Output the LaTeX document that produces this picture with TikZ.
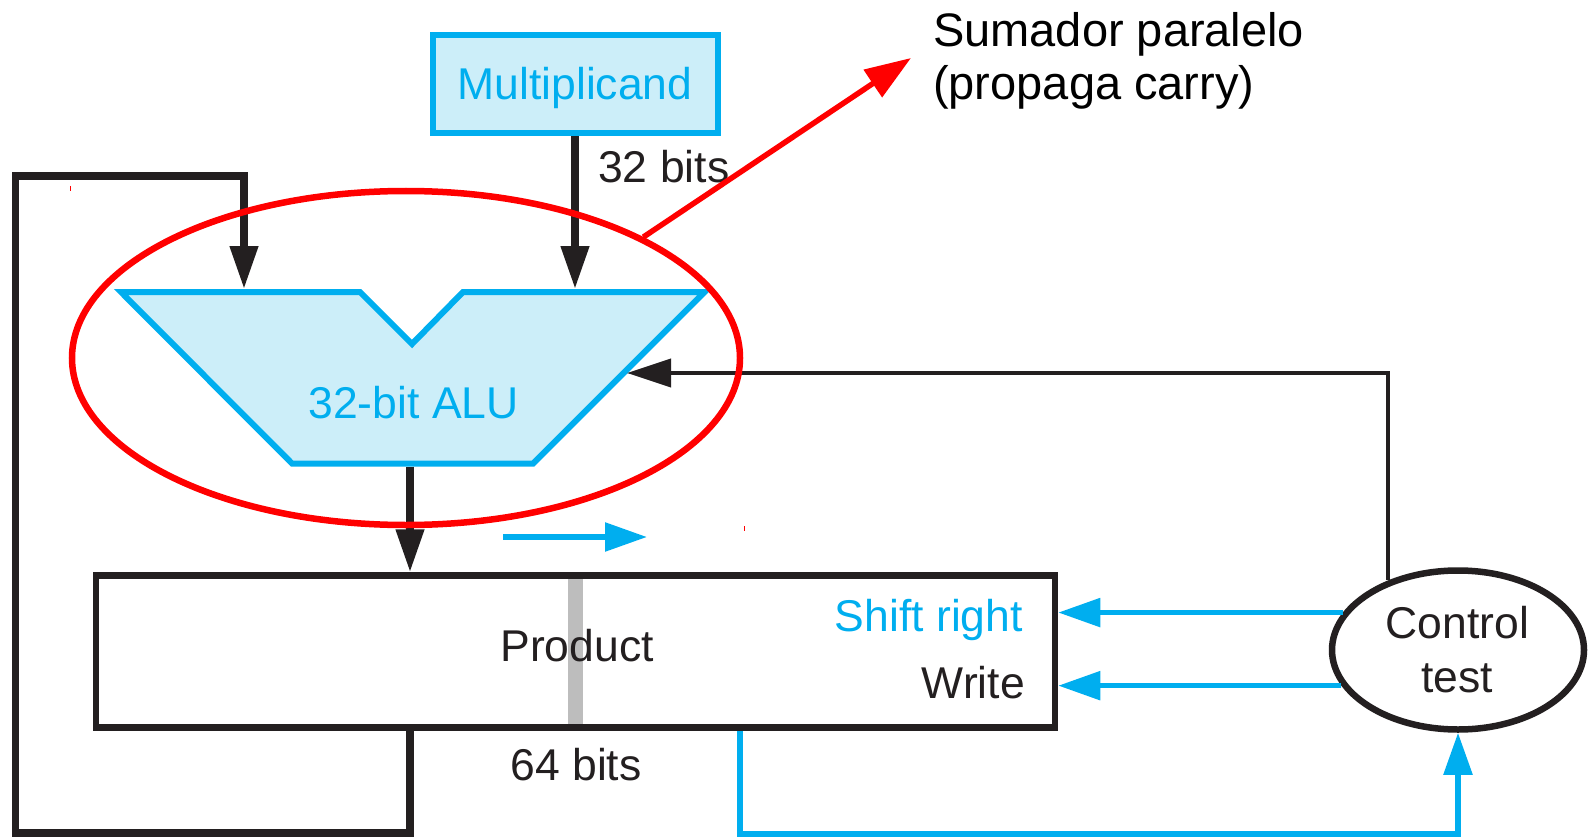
\documentclass[tikz,border=0pt]{standalone}
\usepackage{fontspec}
\setmainfont{Liberation Sans}
\usetikzlibrary{arrows.meta,shapes.geometric}
\definecolor{cpblue}{HTML}{00AEEF}
\definecolor{cpfill}{HTML}{CCEEF9}
\definecolor{cpblack}{HTML}{231F20}
\definecolor{cpgray}{HTML}{BDBDBD}
\definecolor{cpred}{HTML}{FF0000}
\begin{document}
\begin{tikzpicture}[x=1pt,y=-1pt,
  lbl/.style={inner sep=0pt, font=\fontsize{44.5}{54}\selectfont},
  biglbl/.style={inner sep=0pt, font=\fontsize{47}{53}\selectfont},
  thickbus/.style={draw=cpblack, line width=7.5pt, -{Triangle[length=43pt,width=27pt]}},
  thinbus/.style={draw=cpblack, line width=3.8pt, -{Triangle[length=44pt,width=28pt]}},
  bluebus/.style={draw=cpblue, line width=5.5pt, -{Triangle[length=42pt,width=28pt]}},
  regbox/.style={draw=cpblack, line width=6.5pt, inner sep=0pt, rectangle},
  unitbox/.style={draw=cpblue, fill=cpfill, line width=6pt, inner sep=0pt, rectangle},
  ctlshape/.style={draw=cpblack, line width=6.5pt, ellipse, inner sep=0pt,
    minimum width=252pt, minimum height=159pt},
  ring/.style={draw=cpred, line width=6.5pt, ellipse, inner sep=0pt,
    minimum width=668pt, minimum height=334pt},
  redarrow/.style={draw=cpred, line width=5.5pt, -{Triangle[length=46pt,width=32pt]}}
]
\useasboundingbox (0,0) rectangle (1590,837);
\fill[white] (0,0) rectangle (1590,837);

% ---- multiplicand register ----
\node[unitbox, minimum width=285pt, minimum height=98pt] (mult) at (575,84) {};
\node[lbl, anchor=base, text=cpblue] (multtxt) at (575,100) {Multiplicand};
\node[lbl, anchor=base west, text=cpblack] (bits32) at (598,183) {32 bits};

% ---- ALU ----
\draw[draw=cpblue, fill=cpfill, line width=6pt]
  (121,292) -- (360,292) -- (412,344) -- (463,292) -- (704.5,292)
  -- (533,463.5) -- (292,463.5) -- cycle;
\node[lbl, anchor=base, text=cpblue] (alutxt) at (413.5,418) {32-bit ALU};
\coordinate (aluA) at (244,289);
\coordinate (aluB) at (575,289);
\coordinate (aluR) at (627,373);
\coordinate (aluOut) at (410,466.5);

% ---- product register ----
\node[regbox, minimum width=959pt, minimum height=152pt] (prod) at (575.5,651.5) {};
\draw[cpgray, line width=15pt] (575,579) -- (575,724);
\node[lbl, anchor=base, text=cpblack] (prodtxt) at (577,661) {Product};
\node[lbl, anchor=base east, text=cpblue] (shift) at (1023,631) {Shift right};
\node[lbl, anchor=base east, text=cpblack] (write) at (1025,698) {Write};
\node[lbl, anchor=base, text=cpblack] (bits64) at (576,780) {64 bits};

% ---- control ----
\node[ctlshape] (ctl) at (1458,650) {};
\node[lbl, anchor=base, text=cpblack] (ctlA) at (1457.5,638) {Control};
\node[lbl, anchor=base, text=cpblack] (ctlB) at (1457,692) {test};

% ---- datapath connectors ----
\draw[thickbus] (mult.south) -- (aluB);
\draw[thickbus] (aluOut) -- (aluOut |- prod.north);
\coordinate (loopBL) at (410,833);
\coordinate (loopL) at (15.5,833);
\coordinate (loopTL) at (15.5,176);
\coordinate (loopTR) at (244,176);
\draw[thickbus] (prod.south -| loopBL) -- (loopBL) -- (loopL) -- (loopTL) -- (loopTR) -- (aluA);

% ---- control connectors ----
\draw[thinbus] (ctl.135.7) -- (ctl.135.7 |- aluR) -- (aluR);
\draw[bluebus] (ctl.162.2) -- (ctl.162.2 -| prod.east);
\draw[bluebus] (ctl.197.8) -- (ctl.197.8 -| prod.east);
\coordinate (lsbB) at (740,834);
\draw[bluebus] (prod.south -| lsbB) -- (lsbB) -- (ctl.south |- lsbB) -- (ctl.south);

% shift direction
\coordinate (shA) at (503,537);
\coordinate (shB) at (647,537);
\draw[bluebus] (shA) -- (shB);

% ---- adder annotation ----
\node[ring] (sumring) at (406,358) {};
\node[biglbl, anchor=base west, text=black] (sum1) at (933,47) {Sumador paralelo};
\node[biglbl, anchor=base west, text=black] (sum2) at (933,100) {(propaga carry)};
\coordinate (sumtip) at (911,58);
\draw[redarrow] (sumring.27) -- (sumtip);
\draw[cpred, line width=1pt] (70,186) -- (70,191);
\draw[cpred, line width=1pt] (744,526) -- (744,531);
\end{tikzpicture}
\end{document}
